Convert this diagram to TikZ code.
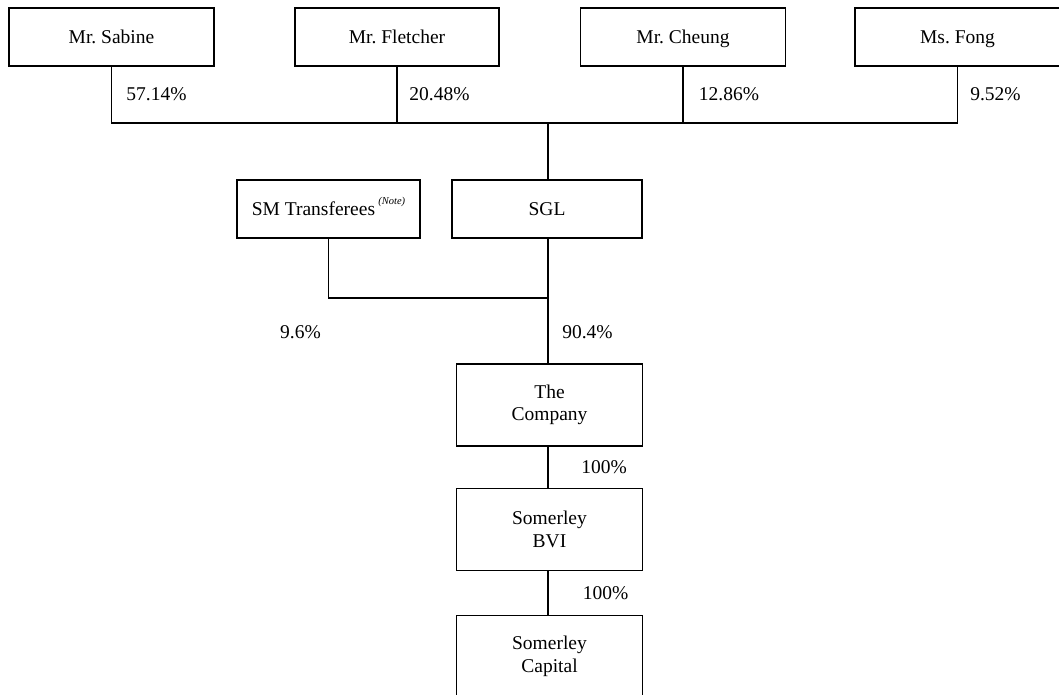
\documentclass[tikz,border=0pt]{standalone}
\usepackage{fontspec}
\setmainfont{Liberation Serif}
\frenchspacing
\begin{document}
\begin{tikzpicture}[x=1pt,y=1pt,
  box/.style={draw,line width=1.3pt,inner sep=0pt,align=center,font=\fontsize{19.5}{23.5}\selectfont},
  onebox/.style={box,text height=15pt,text depth=2.4pt,minimum height=58},
  twobox/.style={box,minimum width=186,minimum height=82},
  lab/.style={inner sep=0pt,font=\fontsize{19.5}{23.5}\selectfont},
  conn/.style={line width=1.3pt}]
\useasboundingbox (0,0) rectangle (1059,-695);
\clip (0,0) rectangle (1059,-695);
\node[onebox,minimum width=205] (sabine) at (111.5,-37) {Mr. Sabine};
\node[onebox,minimum width=204] (fletcher) at (397,-37) {Mr. Fletcher};
\node[onebox,minimum width=205] (cheung) at (683,-37) {Mr. Cheung};
\node[onebox,minimum width=205] (fong) at (957.5,-37) {Ms. Fong};
\node[onebox,minimum width=183] (smt) at (328.5,-209) {SM Transferees\,\raisebox{0.55em}{\fontsize{10.5}{12}\selectfont\itshape (Note)}};
\node[onebox,minimum width=190] (sgl) at (547,-209) {SGL};
\node[twobox] (company) at (549.5,-405) {\raisebox{-2pt}{The}\\Company};
\node[twobox] (bvi) at (549.5,-529.5) {Somerley\\BVI};
\node[twobox,minimum height=82.5] (capital) at (549.5,-656.5) {Somerley\\Capital};
\coordinate (j1) at (548,-123);
\coordinate (j2) at (548,-298);
\draw[conn] (sabine.south) -- (sabine.south |- j1) -- (fong.south |- j1) -- (fong.south);
\draw[conn] (fletcher.south) -- (fletcher.south |- j1);
\draw[conn] (cheung.south) -- (cheung.south |- j1);
\draw[conn] (j1) -- (j1 |- sgl.north);
\draw[conn] (smt.south) -- (smt.south |- j2) -- (j2);
\draw[conn] (j2 |- sgl.south) -- (j2 |- company.north);
\draw[conn] (j2 |- company.south) -- (j2 |- bvi.north);
\draw[conn] (j2 |- bvi.south) -- (j2 |- capital.north);
\node[lab] (p1) at (156.5,-94) {57.14\%};
\node[lab] (p2) at (439.5,-94) {20.48\%};
\node[lab] (p3) at (729,-94) {12.86\%};
\node[lab] (p4) at (995.5,-94) {9.52\%};
\node[lab] (p5) at (300.5,-332) {9.6\%};
\node[lab] (p6) at (587.5,-332) {90.4\%};
\node[lab] (p7) at (604,-467.5) {100\%};
\node[lab] (p8) at (605.5,-593.5) {100\%};
\end{tikzpicture}
\end{document}
